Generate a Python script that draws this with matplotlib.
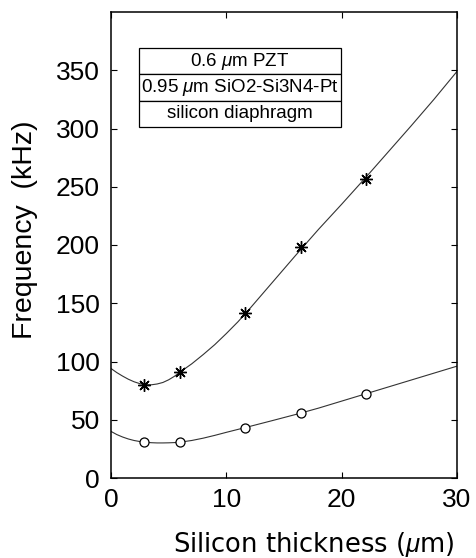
import matplotlib
matplotlib.use("Agg")
import matplotlib.pyplot as plt
import numpy as np

plt.rcParams['font.family'] = ['Liberation Sans', 'DejaVu Sans']
plt.rcParams['mathtext.fontset'] = 'custom'
plt.rcParams['mathtext.it'] = 'Liberation Sans:italic'
plt.rcParams['mathtext.rm'] = 'Liberation Sans'

# Curves
curve_x = [0, 0.5, 1, 1.5, 2, 2.5, 3, 3.5, 4, 4.5, 5, 5.5, 6, 7, 8, 9, 10, 11, 12,
           14, 16, 18, 20, 22, 24, 26, 28, 30]
upper_curve = [94, 90.5, 87.5, 84.8, 82.6, 81, 80.1, 80, 80.7, 82, 84.3, 87.3, 91,
               98, 106, 114.5, 124, 134, 145, 168, 191, 213.5, 235, 257, 279.5, 302, 325, 349]
lower_curve = [40, 37.3, 35.2, 33.5, 32.2, 31.3, 30.7, 30.3, 30.1, 30.1, 30.2, 30.4, 30.8,
               32.2, 34.2, 36.6, 39.2, 41.7, 44.2, 49.3, 54.5, 60, 66, 72, 78, 84, 90, 96]

# Marker points
star_x = [2.9, 6.0, 11.6, 16.5, 22.1]
star_y = [79.5, 91, 142, 198, 257]
circ_x = [2.9, 6.0, 11.6, 16.5, 22.1]
circ_y = [30.5, 30.5, 43, 56, 72]

legend_rows = [r"0.6 $\mathit{\mu}$m PZT", r"0.95 $\mathit{\mu}$m SiO2-Si3N4-Pt", "silicon diaphragm"]
xticks = [0, 10, 20, 30]
yticks = [0, 50, 100, 150, 200, 250, 300, 350]

fig = plt.figure(figsize=(4.76, 5.58), dpi=100)
ax = fig.add_axes([111/476, 80/558, 346/476, 466/558])

line_col = '#333333'
ax.plot(curve_x, upper_curve, color=line_col, lw=0.8)
ax.plot(curve_x, lower_curve, color=line_col, lw=0.8)
ax.plot(star_x, star_y, ls='none', marker=(8, 2, 0), ms=9, mec='black', mew=1.0, color='black')
ax.plot(circ_x, circ_y, ls='none', marker='o', ms=6.5, mfc='white', mec='black', mew=0.9)

ax.set_xlim(0, 30)
ax.set_ylim(0, 400)
ax.set_xticks(xticks)
ax.set_yticks(yticks)
ax.tick_params(direction='in', length=4, width=0.8, top=True, right=True, labelsize=19)
ax.tick_params(axis='x', pad=7)
ax.tick_params(axis='y', pad=8)
for s in ax.spines.values():
    s.set_linewidth(1.1)

tbl = ax.table(cellText=[[r] for r in legend_rows], cellLoc='center',
               bbox=[0.081, 0.753, 0.584, 0.17])
tbl.auto_set_font_size(False)
for (r, c), cell in tbl.get_celld().items():
    cell.set_linewidth(0.9)
    cell.get_text().set_fontsize(13.5)

fig.text(313.5/476, 6/558, r"Silicon thickness ($\mathit{\mu}$m)", fontsize=18.5,
         family='DejaVu Sans', ha='center', va='baseline')
fig.text(25/476, (558-230)/558, "Frequency  (kHz)", fontsize=20.5, rotation=90, ha='center', va='center')

fig.savefig("out.png", dpi=100)
